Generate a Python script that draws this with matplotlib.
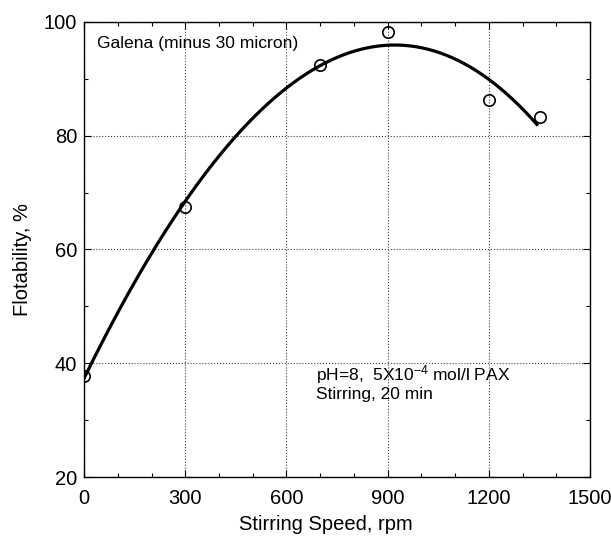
import numpy as np
import matplotlib
matplotlib.use("Agg")
import matplotlib.pyplot as plt
from matplotlib.ticker import MultipleLocator

plt.rcParams['font.family'] = ['Liberation Sans', 'DejaVu Sans']
plt.rcParams['mathtext.fontset'] = 'custom'
plt.rcParams['mathtext.rm'] = 'Liberation Sans'
plt.rcParams['mathtext.default'] = 'regular'

# Measured flotability of galena vs. stirring speed
speed_rpm = [0, 300, 700, 900, 1200, 1350]
flotability = [37.8, 67.4, 92.4, 98.1, 86.3, 83.2]

x_ticks = [0, 300, 600, 900, 1200, 1500]
y_ticks = [20, 40, 60, 80, 100]

fig = plt.figure(figsize=(6.11, 5.38), dpi=100)
ax = fig.add_axes([0.1375, 0.1125, 0.8285, 0.8475])

# Third-order polynomial trend through the measurements
coef = np.polyfit(speed_rpm, flotability, 3)
xs = np.linspace(0, 1342, 300)
ax.plot(xs, np.polyval(coef, xs), color='black', lw=2.3, zorder=3)

ax.plot(speed_rpm, flotability, linestyle='none', marker='o', ms=8.2,
        mfc='none', mec='black', mew=1.2, zorder=4)

ax.set_xlim(0, 1500)
ax.set_ylim(20, 100)
ax.set_xticks(x_ticks)
ax.set_yticks(y_ticks)
ax.xaxis.set_minor_locator(MultipleLocator(100))
ax.yaxis.set_minor_locator(MultipleLocator(10))
ax.tick_params(which='both', direction='in', top=True, right=True,
               labelsize=14.5, width=0.8)
ax.tick_params(which='major', length=5)
ax.tick_params(axis='x', which='major', pad=8)
ax.tick_params(axis='y', which='major', pad=5)
ax.tick_params(which='minor', length=3)
ax.grid(True, which='major', linestyle=':', color='0.25', lw=0.8)
for s in ax.spines.values():
    s.set_linewidth(1.0)

ax.set_xlabel('Stirring Speed, rpm', fontsize=14.5, va='center')
ax.xaxis.set_label_coords(0.478, -0.103)
ax.set_ylabel('Flotability, %', fontsize=14.5, va='center')
ax.yaxis.set_label_coords(-0.1225, 0.479)

ax.text(38, 96.2, 'Galena (minus 30 micron)', fontsize=12.6, va='center', ha='left')
ax.text(686, 38.0, 'pH=8,  5X10$^{-4}$ mol/l PAX', fontsize=12.5, va='center', ha='left')
ax.text(686, 34.5, 'Stirring, 20 min', fontsize=12.5, va='center', ha='left')

fig.savefig('out.png', dpi=100)
